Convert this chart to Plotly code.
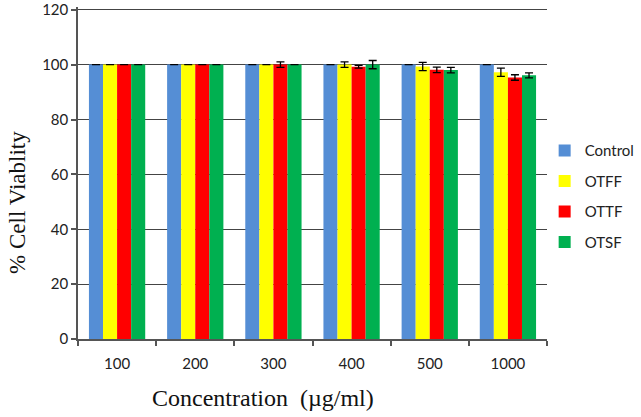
import plotly.graph_objects as go

categories = ["100", "200", "300", "400", "500", "1000"]
series_names = ["Control", "OTFF", "OTTF", "OTSF"]
control = [100, 100, 100, 100, 100, 100]
otff = [100, 100, 100, 100, 99.3, 97.2]
ottf = [100, 100, 100, 99.2, 98.1, 95.3]
otsf = [100, 100, 100, 100, 98.0, 96.1]
control_err = [0, 0, 0, 0, 0, 0]
otff_err = [0, 0, 0, 1.0, 1.5, 1.5]
ottf_err = [0, 0, 1.0, 0.5, 1.0, 1.0]
otsf_err = [0, 0, 0, 1.5, 1.0, 0.9]
colors = ["#558ED5", "#FFFF00", "#FF0000", "#00B050"]
x_title = "Concentration\u00a0\u00a0(\u00b5g/ml)"
y_title = "% Cell Viablity"

fig = go.Figure()
for name, vals, errs, col in zip(series_names, [control, otff, ottf, otsf],
                                  [control_err, otff_err, ottf_err, otsf_err], colors):
    fig.add_trace(go.Bar(
        x=categories, y=vals, name=name, legendgroup=name,
        marker=dict(color=col, line=dict(width=0)),
        error_y=dict(type="data", array=errs, visible=True, color="black",
                     thickness=1.3, width=4),
    ))

serif = "Liberation Serif, Times New Roman, serif"
fig.update_layout(
    width=641, height=417,
    margin=dict(l=78, r=94, t=7, b=78, autoexpand=False),
    paper_bgcolor="white", plot_bgcolor="white",
    barmode="group", bargap=0.28, bargroupgap=0,
    font=dict(family="Lato, Open Sans, sans-serif", size=15, color="#222"),
    showlegend=True,
    legend=dict(x=0.995, y=0.43, xanchor="left", yanchor="middle",
                font=dict(size=15, family="Lato, sans-serif", color="#222"),
                tracegroupgap=8, bgcolor="rgba(0,0,0,0)"),
    xaxis=dict(
        type="category", showline=True, linecolor="#555", linewidth=1.5,
        ticks="outside", tickson="boundaries", ticklen=5, tickcolor="#555",
        tickwidth=1.5, showgrid=False, automargin=False,
        ticklabelstandoff=10,
        tickfont=dict(size=15),
    ),
    yaxis=dict(
        range=[0, 121], tickvals=[0, 20, 40, 60, 80, 100, 120],
        showline=True, linecolor="#555", linewidth=1.5,
        ticks="outside", ticklen=5, tickcolor="#555", tickwidth=1.5,
        showgrid=True, gridcolor="#444", gridwidth=1, zeroline=False,
        automargin=False, ticklabeloverflow="allow",
        tickfont=dict(size=15),
    ),
    annotations=[
        dict(text=x_title, xref="paper", yref="paper", x=0.394, y=-0.177,
             xanchor="center", yanchor="middle", showarrow=False,
             font=dict(family=serif, size=24, color="#111")),
        dict(text=y_title, xref="paper", yref="paper", x=0, y=0.41,
             xanchor="center", yanchor="middle", showarrow=False, textangle=-90,
             font=dict(family=serif, size=23, color="#111"), xshift=-60),
    ],
)

fig.write_html("out.html", post_script="document.body.style.margin='0';",
               config={"displayModeBar": False})
